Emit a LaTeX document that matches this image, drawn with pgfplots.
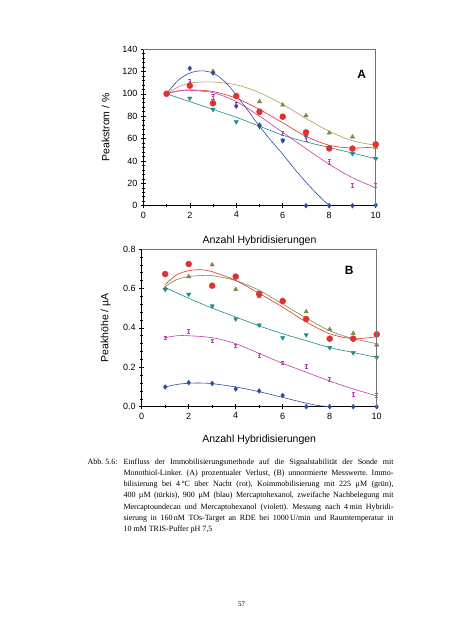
\documentclass[border=0pt]{standalone}
\usepackage{fontspec}
\setmainfont{Liberation Sans}
\newfontfamily\capfont{Liberation Serif}
\usepackage{pgfplots}
\pgfplotsset{compat=1.18}
\definecolor{cblue}{HTML}{2E4BA0}
\definecolor{cred}{HTML}{E23030}
\definecolor{colive}{HTML}{7E8A3C}
\definecolor{ctan}{HTML}{B8985C}
\definecolor{cteal}{HTML}{1D8A8C}
\definecolor{cviol}{HTML}{C23CB4}
\frenchspacing
\pgfplotsset{myaxis/.style={
  scale only axis, axis lines*=left,
  xmin=0, xmax=10, xtick={0,2,...,10}, minor x tick num=1,
  tick align=center, major tick length=5pt, minor tick length=3pt,
  tick style={black, line width=0.5pt},
  axis line style={black, line width=0.6pt},
  tick label style={font=\fontsize{9}{10}\selectfont},
  /pgf/number format/assume math mode=true,
  label style={font=\fontsize{10.5}{12}\selectfont},
  clip=false,
  after end axis/.code={\draw[black!55, line width=0.7pt] (rel axis cs:0,1) -- (rel axis cs:1,1) -- (rel axis cs:1,0);},
  viol/.style={only marks, mark=*, mark size=0.7pt, cviol, error bars/.cd, y dir=both, y explicit, error mark=|, error mark options={cviol, mark size=1.6pt, line width=0.5pt}, error bar style={cviol, line width=0.5pt}},
}}
\begin{document}
\begin{tikzpicture}[x=1pt,y=1pt]
\fill[white] (0,0) rectangle (452,640);
% ---------- Plot A ----------
\begin{axis}[myaxis, at={(143.3pt,434.3pt)}, anchor=south west,
  width=232.4pt, height=156.7pt,
  ymin=0, ymax=140, ytick={0,20,...,140}, minor y tick num=4,
  xlabel={Anzahl Hybridisierungen}, ylabel={Peakstrom / \%},
  xlabel style={at={(axis description cs:0.5,-0.2253)}, anchor=center},
  ylabel style={at={(axis description cs:-0.1618,0.5)}, anchor=center},
]
% curves
\addplot[ctan, line width=0.6pt, smooth] coordinates {(1,100)(1.5,106)(2,109.5)(2.5,110.5)(3,110.5)(4,108)(5,101)(6,90.5)(7,78)(8,66.5)(9,58)(10,54)};
\addplot[cred, line width=0.6pt, smooth] coordinates {(1,100)(1.5,102.5)(2,103.5)(3,102)(4,96)(5,86)(6,74)(7,62)(8,54)(9,51.5)(10,52.5)};
\addplot[cviol, line width=0.6pt, smooth] coordinates {(1,100)(1.5,102.5)(2,103)(3,101)(4,93)(5,80)(6,65.5)(7,51)(8,37)(9,25)(10,16)};
\addplot[cteal, line width=0.6pt, smooth] coordinates {(1,100)(2,93)(3,86)(4,79)(5,71)(6,63)(7,57)(8,52)(9,47)(10,42)};
\addplot[cblue, line width=0.6pt, smooth] coordinates {(1,100)(1.5,112)(2,118.5)(2.5,120.5)(3,118.5)(3.5,111)(4,99)(4.5,85)(5,71)(5.5,58)(6,46)(6.5,33)(7,21)(7.5,10)(8,0)};
% marks
\addplot[only marks, mark=triangle*, mark size=2.5pt, colive] coordinates {(1,100)(2,109)(3,120)(4,98)(5,93)(6,90)(7,80.5)(8,65)(9,61.5)(10,52)};
\addplot[only marks, mark=triangle*, mark size=2.5pt, cteal, mark options={rotate=180}] coordinates {(1,100)(2,96)(3,86)(4,75)(5,70.5)(6,58.5)(7,62)(8,51)(9,46.5)(10,42)};
\addplot[only marks, mark=diamond*, mark size=2.4pt, cblue] coordinates {(1,100)(2,122.7)(3,118.5)(4,89)(5,72)(6,58)(7,0)(8,0)(9,0)(10,0.5)};
\addplot[viol] coordinates {(1,100)+-(0,1.5)(2,110.5)+-(0,2.5)(3,97.4)+-(0,2)(4,91)+-(0,1.5)(5,83)+-(0,1.5)(6,64.6)+-(0,1.5)(7,60)+-(0,2)(8,39.3)+-(0,2)(9,18.5)+-(0,2)(10,18.5)+-(0,2)};
\addplot[only marks, mark=*, mark size=3pt, cred] coordinates {(1,100)(2,107.2)(3,91.5)(4,98)(5,84)(6,79.5)(7,65.5)(8,51.2)(9,51)(10,54.8)};
\node[font=\bfseries\fontsize{12}{14}\selectfont] at (axis cs:9.4,117.7) {A};
\end{axis}
% ---------- Plot B ----------
\begin{axis}[myaxis, at={(141.7pt,233.3pt)}, anchor=south west,
  width=235pt, height=157.7pt,
  ymin=0, ymax=0.8, ytick={0,0.2,...,0.8}, minor y tick num=4,
  yticklabel style={/pgf/number format/.cd, fixed, fixed zerofill, precision=1},
  xlabel={Anzahl Hybridisierungen}, ylabel={Peakhöhe / µA},
  xlabel style={at={(axis description cs:0.5,-0.211)}, anchor=center},
  ylabel style={at={(axis description cs:-0.1536,0.5)}, anchor=center},
]
\addplot[colive, line width=0.6pt, smooth] coordinates {(1,0.61)(1.5,0.645)(2,0.66)(2.5,0.665)(3,0.665)(4,0.64)(5,0.59)(6,0.52)(7,0.45)(8,0.385)(9,0.345)(10,0.32)};
\addplot[cred, line width=0.6pt, smooth] coordinates {(1,0.62)(1.5,0.67)(2,0.69)(2.5,0.695)(3,0.685)(4,0.64)(5,0.575)(6,0.505)(7,0.43)(8,0.37)(9,0.345)(10,0.355)};
\addplot[cteal, line width=0.6pt, smooth] coordinates {(1,0.605)(2,0.55)(3,0.50)(4,0.455)(5,0.41)(6,0.37)(7,0.335)(8,0.30)(9,0.275)(10,0.25)};
\addplot[cviol, line width=0.6pt, smooth] coordinates {(1,0.35)(1.5,0.36)(2,0.36)(3,0.35)(4,0.32)(5,0.27)(6,0.22)(7,0.175)(8,0.13)(9,0.09)(10,0.055)};
\addplot[cblue, line width=0.6pt, smooth] coordinates {(1,0.10)(1.5,0.113)(2,0.119)(2.5,0.12)(3,0.117)(4,0.10)(5,0.076)(6,0.047)(7,0.018)(7.5,0.006)(8,0)};
\addplot[only marks, mark=triangle*, mark size=2.5pt, colive] coordinates {(1,0.60)(2,0.66)(3,0.72)(4,0.595)(5,0.558)(6,0.54)(7,0.482)(8,0.392)(9,0.372)(10,0.313)};
\addplot[only marks, mark=triangle*, mark size=2.5pt, cteal, mark options={rotate=180}] coordinates {(1,0.595)(2,0.57)(3,0.511)(4,0.445)(5,0.414)(6,0.35)(7,0.365)(8,0.30)(9,0.274)(10,0.25)};
\addplot[only marks, mark=diamond*, mark size=2.4pt, cblue] coordinates {(1,0.10)(2,0.122)(3,0.118)(4,0.09)(5,0.08)(6,0.057)(7,0)(8,0)(9,0)(10,0)};
\addplot[viol] coordinates {(1,0.35)+-(0,0.008)(2,0.384)+-(0,0.01)(3,0.335)+-(0,0.008)(4,0.311)+-(0,0.008)(5,0.259)+-(0,0.01)(6,0.225)+-(0,0.008)(7,0.203)+-(0,0.01)(8,0.139)+-(0,0.008)(9,0.064)+-(0,0.01)(10,0.059)+-(0,0.01)};
\addplot[only marks, mark=*, mark size=3pt, cred] coordinates {(1,0.673)(2,0.724)(3,0.614)(4,0.66)(5,0.572)(6,0.536)(7,0.445)(8,0.345)(9,0.345)(10,0.367)};
\node[font=\bfseries\fontsize{12}{14}\selectfont] at (axis cs:8.83,0.693) {B};
\end{axis}
% ---------- Caption ----------
\begin{scope}[every node/.style={anchor=base west, inner sep=0pt, font=\capfont\fontsize{8}{10}\selectfont}]
\node at (87.3,175.7) {Abb. 5.6:};
\node at (123.3,175.7) {\makebox[270pt][s]{Einfluss der Immobilisierungsmethode auf die Signalstabilität der Sonde mit}};
\node at (123.3,164.5) {\makebox[270pt][s]{Monothiol-Linker. (A) prozentualer Verlust, (B) unnormierte Messwerte. Immo-}};
\node at (123.3,153.3) {\makebox[270pt][s]{bilisierung bei 4\,°C über Nacht (rot), Koimmobilisierung mit 225 µM (grün),}};
\node at (123.3,142.1) {\makebox[270pt][s]{400 µM (türkis), 900 µM (blau) Mercaptohexanol, zweifache Nachbelegung mit}};
\node at (123.3,130.9) {\makebox[270pt][s]{Mercaptoundecan und Mercaptohexanol (violett). Messung nach 4\,min Hybridi-}};
\node at (123.3,119.7) {\makebox[270pt][s]{sierung in 160\,nM TOs-Target an RDE bei 1000\,U/min und Raumtemperatur in}};
\node at (123.3,108.5) {10 mM TRIS-Puffer pH 7,5};
\end{scope}
\node[font=\capfont\fontsize{7}{8}\selectfont] at (241.7,35.7) {57};
\end{tikzpicture}
\end{document}
